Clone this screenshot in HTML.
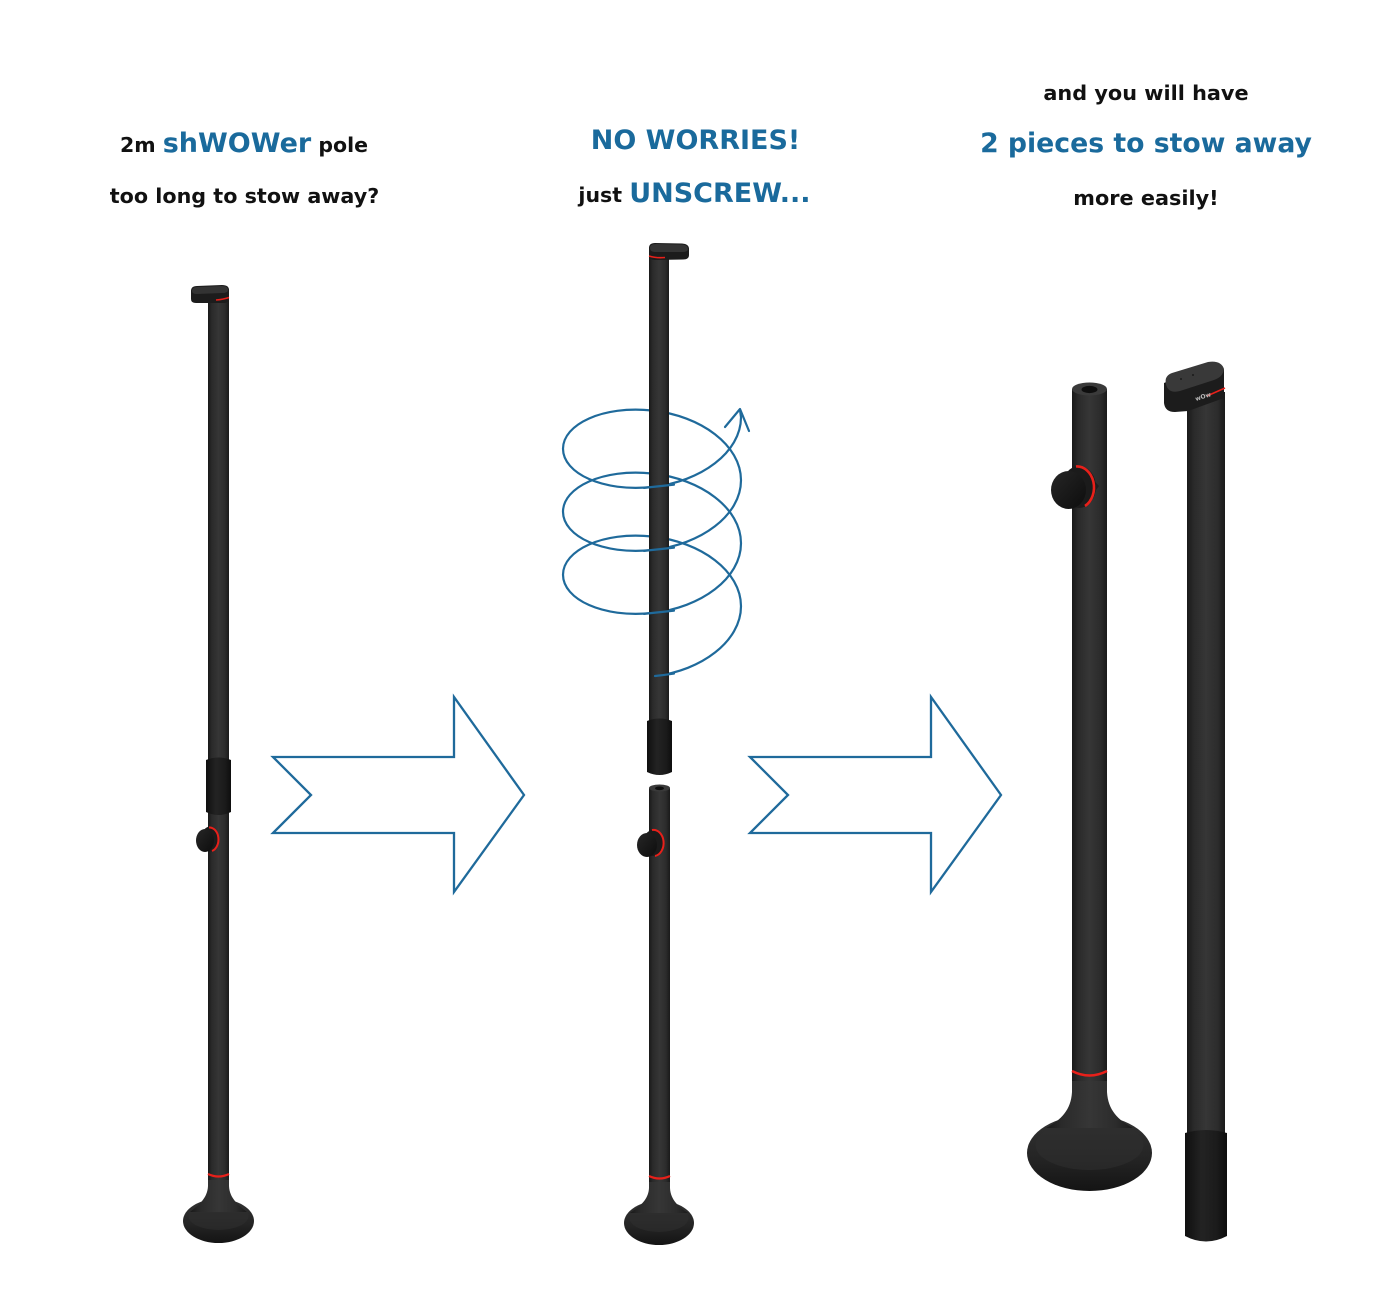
<!DOCTYPE html>
<html>
<head>
<meta charset="utf-8">
<style>
html,body{margin:0;padding:0;background:#fff;}
svg{display:block;}
text{font-family:"DejaVu Sans","Liberation Sans",sans-serif;font-weight:bold;}
</style>
</head>
<body>
<svg width="1400" height="1309" viewBox="0 0 1400 1309" xmlns="http://www.w3.org/2000/svg">
<defs>
  <linearGradient id="rod" x1="0" y1="0" x2="1" y2="0">
    <stop offset="0" stop-color="#191919"/>
    <stop offset="0.18" stop-color="#2a2a2a"/>
    <stop offset="0.5" stop-color="#363636"/>
    <stop offset="0.8" stop-color="#2c2c2c"/>
    <stop offset="1" stop-color="#1a1a1a"/>
  </linearGradient>
  <linearGradient id="slv" x1="0" y1="0" x2="1" y2="0">
    <stop offset="0" stop-color="#0f0f0f"/>
    <stop offset="0.4" stop-color="#232323"/>
    <stop offset="0.75" stop-color="#1b1b1b"/>
    <stop offset="1" stop-color="#0e0e0e"/>
  </linearGradient>
  <linearGradient id="disc" x1="0" y1="0" x2="0" y2="1">
    <stop offset="0" stop-color="#333"/>
    <stop offset="0.55" stop-color="#252525"/>
    <stop offset="1" stop-color="#141414"/>
  </linearGradient>
  <linearGradient id="knob" x1="0" y1="0" x2="1" y2="1">
    <stop offset="0" stop-color="#262626"/>
    <stop offset="1" stop-color="#0d0d0d"/>
  </linearGradient>
</defs>

<!-- ===== TEXT ===== -->
<text x="244" y="152" text-anchor="middle"><tspan font-size="20.5" fill="#111">2m </tspan><tspan font-size="27" fill="#1a6a9c">shWOWer</tspan><tspan font-size="20.5" fill="#111"> pole</tspan></text>
<text x="244.5" y="203" text-anchor="middle" font-size="20.7" fill="#111">too long to stow away?</text>

<text x="695.5" y="149" text-anchor="middle" font-size="27" fill="#1a6a9c">NO WORRIES!</text>
<text x="694.5" y="202" text-anchor="middle"><tspan font-size="20.5" fill="#111">just </tspan><tspan font-size="27" fill="#1a6a9c">UNSCREW...</tspan></text>

<text x="1146" y="100" text-anchor="middle" font-size="20.8" fill="#111">and you will have</text>
<text x="1146" y="152" text-anchor="middle" font-size="26.7" fill="#1a6a9c">2 pieces to stow away</text>
<text x="1146" y="205" text-anchor="middle" font-size="20.8" fill="#111">more easily!</text>

<!-- ===== ARROWS ===== -->
<polygon points="273,757 454,757 454,697 524,795 454,892 454,833 273,833 311,795" fill="#fff" stroke="#1f6a9b" stroke-width="2.3" stroke-linejoin="miter"/>
<polygon points="750,757 931,757 931,697 1001,795 931,892 931,833 750,833 788,795" fill="#fff" stroke="#1f6a9b" stroke-width="2.3" stroke-linejoin="miter"/>

<!-- ===== LEFT POLE ===== -->
<ellipse cx="218.5" cy="1221" rx="35.5" ry="22" fill="url(#disc)"/>
<ellipse cx="218.5" cy="1216" rx="30" ry="14" fill="#2e2e2e" opacity="0.6"/>
<path d="M208,1177 L229,1177 L229,1186 C229.5,1198 238,1205 247,1212 L190,1212 C199,1205 207.5,1198 208,1186 Z" fill="url(#rod)"/>
<rect x="208" y="298" width="21" height="882" fill="url(#rod)"/>
<path d="M208,1174 Q218.5,1179 229,1174" stroke="#e8201a" stroke-width="2.2" fill="none"/>
<!-- cap -->
<path d="M191,291 Q191,286 197,286 L222,285 Q229,285 229,290 L229,299 Q229,303 224,303 L196,303 Q191,303 191,299 Z" fill="#1c1c1c"/>
<path d="M192,291 Q192,287 198,287 L222,286 Q228,286 228,290 Q228,293 222,293 L197,294 Q192,294 192,291 Z" fill="#333"/>
<path d="M216,300 Q223,299.5 229,297.5" stroke="#e8201a" stroke-width="1.6" fill="none"/>
<!-- sleeve -->
<path d="M206,760 Q218.5,755 231,760 L231,812 Q218.5,818 206,812 Z" fill="url(#slv)"/>
<!-- knob -->
<ellipse cx="210" cy="839" rx="9" ry="12.5" fill="#1b1b1b"/>
<path d="M209,827.5 A9,12 0 0 1 212,851" stroke="#e8201a" stroke-width="2" fill="none"/>
<ellipse cx="205" cy="840.5" rx="9" ry="11.5" fill="url(#knob)"/>

<!-- ===== MIDDLE POLE ===== -->
<!-- spiral (behind pole) -->
<path d="M655,676 C701.15,670.75 741,641.3 741,606.25 C741,571.2 701.15,541.75 652,536.5 C602.85,531.25 563,550.2 563,574.75 C563,599.3 602.85,618.25 652,613 C701.15,607.75 741,578.3 741,543.25 C741,508.2 701.15,478.75 652,473.5 C602.85,468.25 563,487.2 563,511.75 C563,536.3 602.85,555.25 652,550 C701.15,544.75 741,515.3 741,480.25 C741,445.2 701.15,415.75 652,410.5 C602.85,405.25 563,424.2 563,448.75 C563,473.3 602.85,492.25 652,487 C701.15,481.75 741,452.3 741,417.25 L740,410" fill="none" stroke="#1f6a9b" stroke-width="2.2" stroke-linecap="round"/>
<path d="M725,427 L740,409 L749,431" fill="none" stroke="#1f6a9b" stroke-width="2.2" stroke-linecap="round" stroke-linejoin="round"/>

<!-- base -->
<ellipse cx="659" cy="1223" rx="35" ry="22" fill="url(#disc)"/>
<ellipse cx="659" cy="1218" rx="29.5" ry="14" fill="#2e2e2e" opacity="0.6"/>
<path d="M649,1179 L670,1179 L670,1188 C670.5,1200 679,1207 688,1213 L630,1213 C639,1207 648.5,1200 649,1188 Z" fill="url(#rod)"/>
<!-- lower piece -->
<rect x="649" y="788" width="21" height="394" fill="url(#rod)"/>
<ellipse cx="659.5" cy="788" rx="10.5" ry="3.5" fill="#3a3a3a"/>
<ellipse cx="659.5" cy="788.3" rx="4.5" ry="1.8" fill="#0d0d0d"/>
<path d="M649,1176 Q659.5,1181 670,1176" stroke="#e8201a" stroke-width="2.2" fill="none"/>
<!-- knob -->
<ellipse cx="653" cy="843" rx="10" ry="13" fill="#1b1b1b"/>
<path d="M652,830 A10,13 0 0 1 655,856" stroke="#e8201a" stroke-width="2" fill="none"/>
<ellipse cx="647" cy="845" rx="10" ry="12" fill="url(#knob)"/>
<!-- upper piece -->
<rect x="649" y="252" width="20" height="470" fill="url(#rod)"/>
<path d="M647,721 Q659.5,716 672,721 L672,772 Q659.5,778 647,772 Z" fill="url(#slv)"/>
<!-- cap -->
<path d="M649,248 Q649,243 655,243 L682,243.5 Q689,244 689,249 L689,255 Q689,259.5 683,259.5 L655,260 Q649,260 649,255 Z" fill="#1c1c1c"/>
<path d="M650,248 Q650,244 656,244 L682,244.5 Q688,245 688,249 Q688,252 682,252 L656,252 Q650,252 650,248 Z" fill="#343434"/>
<path d="M649,256 Q656,258.3 665,257.5" stroke="#e8201a" stroke-width="1.6" fill="none"/>
<!-- spiral front crossings (over pole) -->
<g fill="none" stroke="#1f6a9b" stroke-width="2.2" stroke-linecap="round">
  <path d="M655,676 Q665,675 674,673.6"/>
  <path d="M644,613.85 Q652,613 674,610.6"/>
  <path d="M644,550.85 Q652,550 674,547.6"/>
  <path d="M644,487.85 Q652,487 674,484.6"/>
</g>

<!-- ===== RIGHT: BASE PIECE ===== -->
<ellipse cx="1089.5" cy="1153" rx="62.5" ry="38" fill="url(#disc)"/>
<ellipse cx="1089.5" cy="1145" rx="54" ry="25" fill="#2e2e2e" opacity="0.6"/>
<path d="M1072,1078 L1107,1078 L1107,1092 C1108,1110 1118,1120 1133,1128 L1046,1128 C1061,1120 1071,1110 1072,1092 Z" fill="url(#rod)"/>
<rect x="1072" y="389" width="35" height="692" fill="url(#rod)"/>
<path d="M1072,1071 Q1089.5,1080 1107,1071" stroke="#e8201a" stroke-width="2.4" fill="none"/>
<ellipse cx="1089.5" cy="389" rx="17.5" ry="6.5" fill="#3a3a3a"/>
<ellipse cx="1089.5" cy="389.5" rx="8" ry="3.6" fill="#0e0e0e"/>
<!-- knob -->
<path d="M1082,468 L1099,486 L1084,506 Z" fill="#1e1e1e"/>
<ellipse cx="1079" cy="487" rx="17" ry="21" fill="#1b1b1b"/>
<path d="M1076,466.5 A17,21 0 0 1 1085,506" stroke="#e8201a" stroke-width="2.6" fill="none"/>
<ellipse cx="1068.5" cy="490" rx="17.5" ry="19" fill="url(#knob)"/>

<!-- ===== RIGHT: TOP PIECE ===== -->
<rect x="1187" y="392" width="38" height="745" fill="url(#rod)"/>
<path d="M1185,1133 Q1206,1127 1227,1133 L1227,1236 Q1206,1247 1185,1236 Z" fill="url(#slv)"/>
<!-- cap -->
<path d="M1164,383 L1164,403 Q1165,412 1175,412 L1188,411 L1224,398 L1224,370 Q1222,362 1212,362 Z" fill="#1c1c1c"/>
<path d="M1166,384 Q1164,376 1172,373 L1208,362 Q1221,360 1224,369 Q1223,377 1214,380 L1180,391 Q1168,394 1166,384 Z" fill="#393939"/>
<circle cx="1181" cy="379" r="0.9" fill="#111"/>
<circle cx="1193" cy="375" r="0.9" fill="#111"/>
<path d="M1207,396 L1225,388" stroke="#e8201a" stroke-width="1.6" fill="none"/>
<text x="1196" y="401" font-size="6" fill="#bbb" transform="rotate(-18 1196 401)">wOw</text>
</svg>
</body>
</html>
